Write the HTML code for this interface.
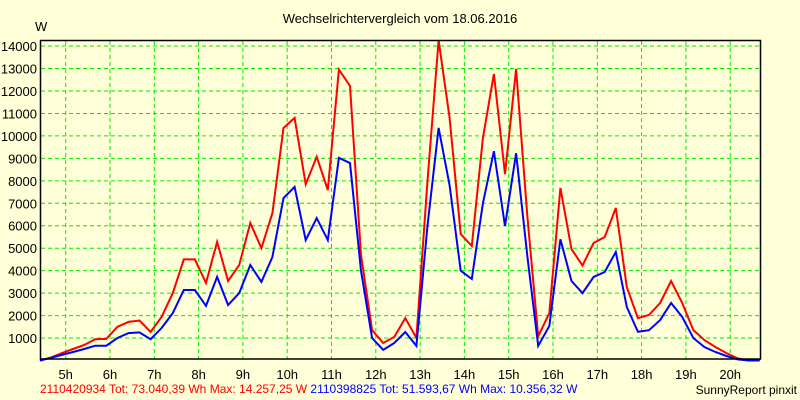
<!DOCTYPE html>
<html><head><meta charset="utf-8"><style>
html,body{margin:0;padding:0;background:#ffffd8;}
svg{display:block;font-family:"Liberation Sans",sans-serif;}
</style></head><body>
<svg id="chart" width="800" height="400" viewBox="0 0 800 400" xmlns="http://www.w3.org/2000/svg">
<rect x="0" y="0" width="800" height="400" fill="#ffffd8"/>
<text x="400" y="23" font-size="13" text-anchor="middle" fill="#000">Wechselrichtervergleich vom 18.06.2016</text>
<text x="35" y="31" font-size="13" fill="#000">W</text>
<g id="grid"></g>
<g id="yticks"></g>
<g id="xticks"></g>
<g id="series"></g>
<rect x="40.5" y="40.5" width="720" height="318.5" fill="none" stroke="#000" stroke-width="1.5"/>
<text x="40" y="393" font-size="12"><tspan fill="#ff0000">2110420934 Tot: 73.040,39 Wh Max: 14.257,25 W</tspan><tspan fill="#0000ff"> 2110398825 Tot: 51.593,67 Wh Max: 10.356,32 W</tspan></text>
<text x="797" y="394" font-size="12" text-anchor="end" fill="#000">SunnyReport pinxit</text>
</svg>
<script>
const startHour = 4.4167;
const stepHours = 0.25;
const redValues = [0,130,330,510,690,950,960,1500,1720,1780,1270,1950,3000,4500,4500,3450,5280,3540,4250,6120,5000,6560,10350,10800,7850,9070,7590,12950,12220,4700,1350,780,1050,1890,1000,8000,14257,10800,5630,5100,9900,12760,8300,12980,6500,1080,2100,7680,4960,4230,5230,5500,6790,3270,1890,2030,2560,3540,2560,1360,910,600,330,100,0,0];
const blueValues = [0,120,250,380,510,660,660,1000,1220,1250,950,1450,2110,3140,3140,2430,3720,2470,3000,4250,3500,4610,7230,7730,5360,6340,5360,9020,8790,4000,1000,470,780,1270,650,6000,10356,7800,4000,3630,7000,9320,5990,9230,4700,650,1530,5400,3540,3000,3720,3940,4830,2380,1280,1350,1800,2560,1940,1000,600,380,200,50,0,0];
const yTickValues = [1000,2000,3000,4000,5000,6000,7000,8000,9000,10000,11000,12000,13000,14000];
const xTickHours = [5,6,7,8,9,10,11,12,13,14,15,16,17,18,19,20];

const NS = "http://www.w3.org/2000/svg";
function xScale(h){ return 65.7 + (h - 5) * 44.3; }
function yScale(v){ return 360.5 - v * 0.02246; }

const grid = document.getElementById('grid');
const yt = document.getElementById('yticks');
const xt = document.getElementById('xticks');
yTickValues.forEach(v=>{
  const y = yScale(v);
  const l = document.createElementNS(NS,'line');
  
  
  l.setAttribute('x1',41); l.setAttribute('x2',760); l.setAttribute('y1',y); l.setAttribute('y2',y);
  l.setAttribute('stroke','#00ee00'); l.setAttribute('stroke-width','1'); l.setAttribute('stroke-dasharray','4,3');
  grid.appendChild(l);
  const t = document.createElementNS(NS,'text');
  
  
  t.setAttribute('x',37); t.setAttribute('y',y+5); t.setAttribute('text-anchor','end'); t.setAttribute('font-size','13');
  t.textContent = v;
  yt.appendChild(t);
});
xTickHours.forEach(h=>{
  const x = xScale(h);
  const l = document.createElementNS(NS,'line');
  
  
  l.setAttribute('x1',x); l.setAttribute('x2',x); l.setAttribute('y1',41); l.setAttribute('y2',359);
  l.setAttribute('stroke','#00ee00'); l.setAttribute('stroke-width','1'); l.setAttribute('stroke-dasharray','4,3');
  grid.appendChild(l);
  const t = document.createElementNS(NS,'text');
  
  
  t.setAttribute('x',x); t.setAttribute('y',379); t.setAttribute('text-anchor','middle'); t.setAttribute('font-size','13');
  t.textContent = h + 'h';
  xt.appendChild(t);
});
const series = document.getElementById('series');
function drawLine(vals, color, name){
  const pts = vals.map((v,i)=> xScale(startHour + i*stepHours).toFixed(1)+','+yScale(v).toFixed(1)).join(' ');
  const p = document.createElementNS(NS,'polyline');
  
  
  p.setAttribute('points',pts);
  p.setAttribute('fill','none'); p.setAttribute('stroke',color); p.setAttribute('stroke-width','2');
  p.setAttribute('stroke-linejoin','miter');
  series.appendChild(p);
}
drawLine(redValues,'#ff0000','series-2110420934');
drawLine(blueValues,'#0000ff','series-2110398825');
</script>
</body></html>
